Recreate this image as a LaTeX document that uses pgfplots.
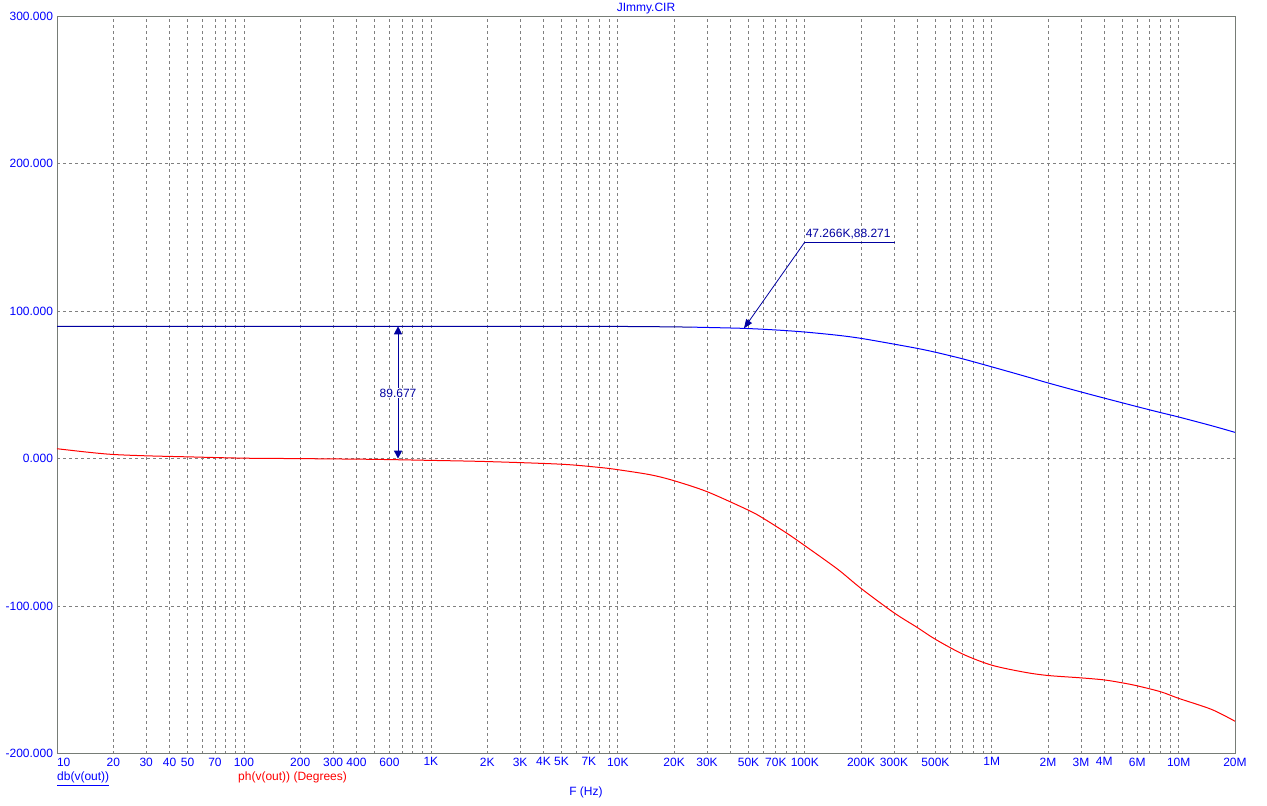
\documentclass[border=0pt]{standalone}
\usepackage{fontspec}
\setmainfont{Liberation Sans}
\usepackage{pgfplots}
\pgfplotsset{compat=1.18}
\usetikzlibrary{arrows.meta}
\definecolor{navy}{RGB}{0,0,160}
\definecolor{mcblue}{RGB}{0,0,255}
\definecolor{mcred}{RGB}{255,0,0}
\definecolor{gridgray}{RGB}{128,128,128}
\definecolor{framegray}{RGB}{118,124,118}
\begin{document}
\begin{tikzpicture}[x=1pt,y=1pt]
\useasboundingbox (-57,-52.3) rectangle (1210,753.7);
\begin{axis}[
  at={(0,0)}, anchor=south west,
  scale only axis, width=1178pt, height=737.7pt,
  xmode=log, log basis x=10,
  xmin=10, xmax=2e7, ymin=-200, ymax=300,
  axis line style={framegray},
  major tick length=0pt, minor tick length=0pt,
  xminorticks=false,
  xtick={10,20,30,40,50,60,70,80,90,
         100,200,300,400,500,600,700,800,900,
         1000,2000,3000,4000,5000,6000,7000,8000,9000,
         10000,20000,30000,40000,50000,60000,70000,80000,90000,
         100000,200000,300000,400000,500000,600000,700000,800000,900000,
         1000000,2000000,3000000,4000000,5000000,6000000,7000000,8000000,9000000,
         10000000,20000000},
  xticklabels={\makebox[0pt][l]{10},20,30,40,50,,70,,,
               100,200,300,400,,600,,,,
               1K,2K,3K,4K,5K,,7K,,,
               10K,20K,30K,,50K,,70K,,,
               100K,200K,300K,,500K,,,,,
               1M,2M,3M,4M,,6M,,,,
               10M,20M},
  ytick={-200,-100,0,100,200,300},
  yticklabels={-200.000,-100.000,0.000,100.000,200.000,300.000},
  xmajorgrids, ymajorgrids,
  grid style={gridgray, dash pattern=on 3pt off 3pt, line width=0.8pt},
  ticklabel style={font=\fontsize{12}{14}\selectfont, text=mcblue},
  xticklabel style={yshift=-0.5pt},
  yticklabel style={xshift=-0.5pt},
  clip=false,
]
% dB curve (dark part)
\addplot[navy, line width=1pt] coordinates {
(10,89.677) (100,89.677) (1000,89.677) (5000,89.66) (10000,89.6) (20000,89.3) (25000,89.1)};
% dB curve (blue part)
\addplot[mcblue, line width=1pt, smooth, tension=0.5] coordinates {
(25000,89.1) (30000,88.9) (47266,88.271) (70000,87.2) (100000,85.8) (150000,83.6)
(200000,81.5) (300000,77.6) (400000,74.7) (500000,72.1) (700000,67.6)
(1000000,62.2) (1500000,55.9) (2000000,51.3) (3000000,45.2) (4000000,41.0)
(6000000,35.2) (8000000,31.2) (10000000,28.2) (15000000,22.3) (20000000,17.8)};
% phase curve
\addplot[mcred, line width=1pt, smooth, tension=0.5] coordinates {
(10,6.7) (15,4.2) (20,2.8) (30,1.9) (50,1.2) (100,0.3) (200,0) (500,-0.5)
(1000,-1.2) (2000,-2) (5000,-3.8) (8000,-6) (10000,-7.5) (15000,-11) (20000,-15)
(30000,-22.4) (50000,-35) (60000,-40.5) (80000,-50.5) (100000,-59) (150000,-75)
(200000,-88) (300000,-104.5) (400000,-114.5) (500000,-122.5) (700000,-132.5)
(1000000,-140) (1500000,-144.8) (2000000,-147) (3000000,-148.6) (4000000,-150)
(5000000,-152) (6000000,-154) (8000000,-158) (10000000,-162.5) (15000000,-170)
(20000000,-178)};
% cursor difference arrow
\draw[navy, line width=1pt, {Triangle[width=8pt,length=8pt]}-{Triangle[width=8pt,length=8pt]}]
  (axis cs:667,0) -- (axis cs:667,89.677);
\node[fill=white, inner sep=1pt, text=navy, font=\fontsize{12}{14}\selectfont]
  at (axis cs:667,44.4) {89.677};
% point annotation
\draw[navy, line width=0.8pt, -{Triangle[width=7pt,length=9pt]}]
  (axis cs:100000,146.8) -- (axis cs:47266,88.271);
\draw[navy, line width=1pt] (axis cs:100000,146.8) -- (axis cs:304000,146.8);
\node[anchor=base west, inner sep=0pt, text=navy, font=\fontsize{12}{14}\selectfont]
  at (axis cs:101000,150) {47.266K,88.271};
\end{axis}
\node[anchor=base, inner sep=0pt, text=mcblue, font=\fontsize{12}{14}\selectfont] at (589,741.7) {JImmy.CIR};
\node[anchor=base west, inner sep=0pt, text=mcblue, font=\fontsize{12}{14}\selectfont] at (0,-27.3) {\underline{db(v(out))}};
\node[anchor=base west, inner sep=0pt, text=mcred, font=\fontsize{12}{14}\selectfont] at (181,-27.3) {ph(v(out)) (Degrees)};
\node[anchor=base, inner sep=0pt, text=mcblue, font=\fontsize{12}{14}\selectfont] at (529,-42.3) {F (Hz)};
\end{tikzpicture}
\end{document}
